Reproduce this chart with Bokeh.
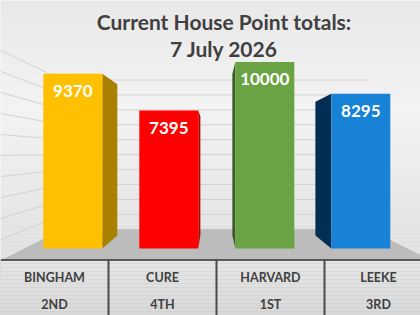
from bokeh.plotting import figure
from bokeh.models import Range1d
from bokeh.embed import file_html
from bokeh.resources import INLINE
from bokeh.core.properties import value

# ---------------- data ----------------
houses = ["BINGHAM", "CURE", "HARVARD", "LEEKE"]
ranks = ["2ND", "4TH", "1ST", "3RD"]
points = [9370, 7395, 10000, 8295]
title_lines = ["Current House Point totals:", "7 July 2026"]
grid_values = list(range(0, 10001, 1000))

front_colors = ["#FFC000", "#FF0000", "#6AA343", "#1882D6"]
side_colors = ["#A98000", "#B30000", "#3A5C25", "#012E52"]

# ---------------- layout (pixel -> data mapping) ----------------
W, H = 420, 315
X0_PX, DX_PX = 72.3, 96.0        # pixel x of first bar centre, bar spacing
BASE_PX, PX_PER_PT = 248.0, 0.01866
BAR_W = 59.0 / DX_PX


def dx(px):
    return (px - X0_PX) / DX_PX


def dy(py):
    return (BASE_PX - py) / PX_PER_PT


# perspective parameters
VX, VY = dx(213), dy(152)        # vanishing point
K_BAR = 0.865                    # depth factor of bar back faces
S_WALL = 0.80                    # depth factor of back wall
XL, XR = dx(24.25), dx(406.75)   # side limits of walls (front plane)


def proj(x, y, s):
    return VX + s * (x - VX), VY + s * (y - VY)


def hex2rgb(c):
    c = c.lstrip("#")
    return [int(c[i:i + 2], 16) for i in (0, 2, 4)]


def grad(stops, y):
    for (y0, c0), (y1, c1) in zip(stops[:-1], stops[1:]):
        if y0 <= y <= y1:
            t = (y - y0) / (y1 - y0)
            a, b = hex2rgb(c0), hex2rgb(c1)
            return "#%02x%02x%02x" % tuple(round(a[i] + (b[i] - a[i]) * t) for i in range(3))
    return stops[-1][1]


p = figure(width=W, height=H,
           x_range=Range1d(dx(0), dx(W)), y_range=Range1d(dy(H), dy(0)),
           output_backend="svg", toolbar_location=None, min_border=0,
           x_axis_location=None, y_axis_location=None,
           background_fill_color="#eeeeee", border_fill_color="#eeeeee",
           outline_line_color=None)
p.grid.visible = False

# background gradient
bg_stops = [(0, "#e8e8e8"), (110, "#f3f3f3"), (260, "#e0e0e0")]
ys = list(range(0, 260, 4))
p.quad(left=dx(0), right=dx(W), top=[dy(y) for y in ys], bottom=[dy(y + 4) for y in ys],
       fill_color=[grad(bg_stops, y + 2) for y in ys], line_color=None)

# wall gridlines
gx, gy = [], []
for g in grid_values:
    bx0, by0 = proj(XL, g, S_WALL)
    bx1, by1 = proj(XR, g, S_WALL)
    gx.append([bx0, bx1])
    gy.append([by0, by1])
    # left wall: extend from back corner toward the viewer to the left edge
    t = (dx(0) - VX) / (bx0 - VX)
    gx.append([bx0, dx(0)])
    gy.append([by0, VY + t * (by0 - VY)])
p.multi_line(gx, gy, line_color="#d2d2d2", line_width=1)

# floor
f = [proj(XL, 0, S_WALL), proj(XR, 0, S_WALL), proj(XR, 0, 1.8), proj(XL, 0, 1.8)]
p.patch([q[0] for q in f], [q[1] for q in f], fill_color="#bcbcbc", line_color=None)

# bar sides
idx = list(range(len(points)))
sx, sy = [], []
for i, v in zip(idx, points):
    left, right = i - BAR_W / 2, i + BAR_W / 2
    e = right if right < VX else left
    t0 = proj(e, v, K_BAR)
    b0 = proj(e, 0, K_BAR)
    sx.append([e, e, t0[0], b0[0]])
    sy.append([0, v, t0[1], b0[1]])
p.patches(sx, sy, fill_color=side_colors, line_color=None)

# bar fronts
p.vbar(x=idx, top=points, bottom=0, width=BAR_W, fill_color=front_colors, line_color=None)

# value labels
LABEL_DROP = 17.5 / PX_PER_PT
p.text(x=idx, y=[v - LABEL_DROP for v in points], text=[str(v) for v in points],
       text_color="white", text_font=value("Lato"), text_font_style="bold",
       text_font_size="17px", text_align="center", text_baseline="middle")

# table area
tb_stops = [(259, "#e6e6e6"), (315, "#d8d8d8")]
ts = list(range(259, 315, 4))
p.quad(left=dx(0), right=dx(W), top=[dy(y) for y in ts], bottom=[dy(y + 4) for y in ts],
       fill_color=[grad(tb_stops, y + 2) for y in ts], line_color=None)
p.segment(x0=dx(0), x1=dx(W), y0=dy(259.5), y1=dy(259.5), line_color="#595959", line_width=2)
cell_w = 108
p.segment(x0=[dx(cell_w * (j + 1)) for j in range(3)], x1=[dx(cell_w * (j + 1)) for j in range(3)],
          y0=dy(259), y1=dy(H), line_color="#4a4a4a", line_width=2)
centers = [dx(cell_w * j + cell_w / 2) for j in range(len(houses))]
p.text(x=centers, y=dy(277), text=houses, text_color="#404040", text_font=value("Lato"),
       text_font_style="bold", text_font_size="12.5px", text_align="center",
       text_baseline="middle")
p.text(x=centers, y=dy(303.5), text=ranks, text_color="#404040", text_font=value("Lato"),
       text_font_style="bold", text_font_size="12.5px", text_align="center",
       text_baseline="middle")

# title
p.text(x=[dx(223.5)] * 2, y=[dy(20.5), dy(47.5)], text=title_lines, text_color="#404040",
       text_font=value("Lato"), text_font_style="bold", text_font_size="21px",
       text_align="center", text_baseline="middle")

open("out.html", "w").write(file_html(p, INLINE))
